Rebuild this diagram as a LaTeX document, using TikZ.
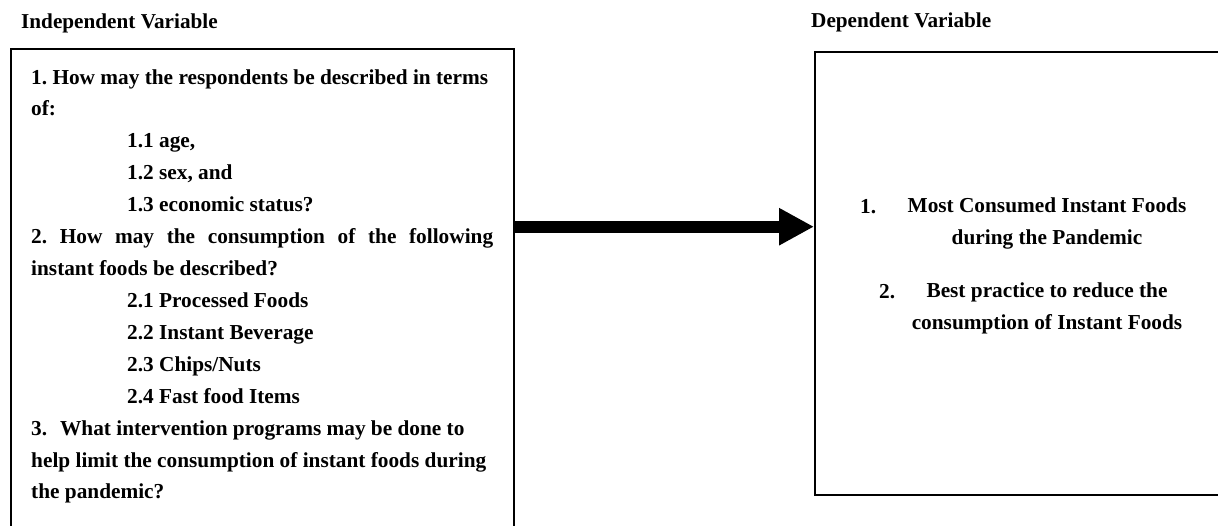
\documentclass[tikz,border=0pt]{standalone}
\usepackage{fontspec}
\setmainfont{Liberation Serif}
\usetikzlibrary{arrows.meta}
\frenchspacing
\begin{document}
\begin{tikzpicture}[x=1pt,y=-1pt,
  box/.style={draw, line width=2pt, inner sep=0pt},
  hdr/.style={anchor=base west, inner sep=0pt, font=\fontsize{21.2}{25}\selectfont\bfseries},
  body/.style={inner sep=0pt, font=\fontsize{21.3}{31.92}\selectfont\bfseries},
  bigarrow/.style={line width=12pt, -{Triangle[length=35pt,width=35pt]}}]
\useasboundingbox (0,0) rectangle (1218,525);
\clip (0,0) rectangle (1218,525);
\fill[white] (0,0) rectangle (1218,525);
% headers
\node[hdr] (hl) at (21,28) {Independent Variable};
\node[hdr] (hr) at (811,27.5) {Dependent Variable};
% boxes
\node[box, minimum width=503pt, minimum height=510pt, anchor=north west] (lbox) at (10,48) {};
\node[box, minimum width=430pt, minimum height=443pt, anchor=north west] (rbox) at (814,51) {};
% left text
\node[body, anchor=base west, text width=600pt, align=flush left] (ltxt) at (31,84) {%
1. How may the respondents be described in terms\\
of:\\
\hspace*{96pt}1.1 age,\\
\hspace*{96pt}1.2 sex, and\\
\hspace*{96pt}1.3 economic status?\\
\makebox[462pt][s]{2. How may the consumption of the following}\\
instant foods be described?\\
\hspace*{96pt}2.1 Processed Foods\\
\hspace*{96pt}2.2 Instant Beverage\\
\hspace*{96pt}2.3 Chips/Nuts\\
\hspace*{96pt}2.4 Fast food Items\\
3.\hspace{13pt}What intervention programs may be done to\\
help limit the consumption of instant foods during\\
the pandemic?};
% right text
\node[body, anchor=base west] (n1) at (860,213) {1.};
\node[body, anchor=base, align=flush center] (t1) at (1047,244) {Most Consumed Instant Foods\\during the Pandemic};
\node[body, anchor=base west] (n2) at (879,298) {2.};
\node[body, anchor=base, align=flush center] (t2) at (1047,329) {Best practice to reduce the\\consumption of Instant Foods};
% arrow
\coordinate (ay) at (0,226.7);
\draw[bigarrow] (lbox.east |- ay) -- (rbox.west |- ay);
\end{tikzpicture}
\end{document}
